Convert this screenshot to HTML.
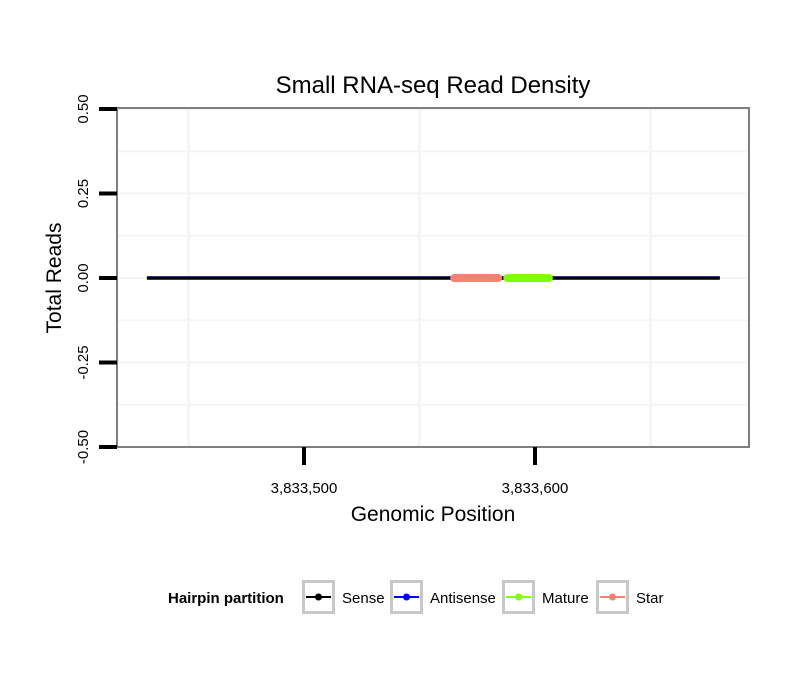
<!DOCTYPE html>
<html><head><meta charset="utf-8"><style>
html,body{margin:0;padding:0;background:#fff;}
svg{display:block;font-family:"Liberation Sans",sans-serif;}
</style></head><body>
<svg id="c" width="810" height="690" xmlns="http://www.w3.org/2000/svg"></svg>
<script>
const xTickVals=[3833500,3833600];
const xTickLabels=["3,833,500","3,833,600"];
const xMinorVals=[3833450,3833550,3833650];
const yTickVals=[0.5,0.25,0,-0.25,-0.5];
const yTickLabels=["0.50","0.25","0.00","-0.25","-0.50"];
const seriesNames=["Sense","Antisense","Mature","Star"];
const seriesColors=["#000000","#0000ff","#7fff00","#fa8072"];
const senseX=[3833432,3833680];const senseY=[0,0];
const antisenseX=[3833432,3833680];const antisenseY=[0,0];
const starX=[3833565,3833584];const starY=[0,0];
const matureX=[3833588,3833606];const matureY=[0,0];
const L=117,R=749,T=108,B=447;
const xs=v=>304+(v-3833500)*2.31;
const ys=v=>278-v*338;
const s=document.getElementById('c');const NS="http://www.w3.org/2000/svg";
function mk(t,a,p){const e=document.createElementNS(NS,t);for(const k in a)e.setAttribute(k,a[k]);(p||s).appendChild(e);return e;}
let e;
e=mk('rect',{x:L,y:T,width:R-L,height:B-T,fill:'#fff'});


[0.375,0.125,-0.125,-0.375].forEach(v=>{e=mk('line',{x1:L,x2:R,y1:ys(v),y2:ys(v),stroke:'#f5f5f5','stroke-width':2});

});
yTickVals.forEach(v=>{e=mk('line',{x1:L,x2:R,y1:ys(v),y2:ys(v),stroke:'#f5f5f5','stroke-width':2});

});
xMinorVals.forEach(v=>{e=mk('line',{x1:xs(v),x2:xs(v),y1:T,y2:B,stroke:'#f5f5f5','stroke-width':3});

});
function seg(xa,ya,col,w,name,cap){e=mk('line',{x1:xs(xa[0]),x2:xs(xa[1]),y1:ys(ya[0]),y2:ys(ya[1]),stroke:col,'stroke-width':w,'stroke-linecap':cap});

}
seg(antisenseX,antisenseY,'#33336e',4,'antisense-line','butt');
seg(senseX,senseY,'#000',2,'sense-line','butt');
seg(starX,starY,seriesColors[3],8,'star-segment','round');
seg(matureX,matureY,seriesColors[2],8,'mature-segment','round');
e=mk('rect',{x:L,y:T,width:R-L,height:B-T,fill:'none',stroke:'#7f7f7f','stroke-width':2});


yTickVals.forEach((v,i)=>{e=mk('line',{x1:99,x2:L,y1:ys(v),y2:ys(v),stroke:'#000','stroke-width':4});


e=mk('text',{x:0,y:0,transform:`translate(88,${ys(v)}) rotate(-90)`,'text-anchor':'middle','font-size':15});e.textContent=yTickLabels[i];

});
xTickVals.forEach((v,i)=>{e=mk('line',{x1:xs(v),x2:xs(v),y1:B,y2:465,stroke:'#000','stroke-width':4});


e=mk('text',{x:xs(v),y:493,'text-anchor':'middle','font-size':15});e.textContent=xTickLabels[i];

});
e=mk('text',{x:433,y:93,'text-anchor':'middle','font-size':24});e.textContent='Small RNA-seq Read Density';


e=mk('text',{x:433,y:521,'text-anchor':'middle','font-size':21});e.textContent='Genomic Position';


e=mk('text',{x:0,y:0,transform:'translate(61,278) rotate(-90)','text-anchor':'middle','font-size':21});e.textContent='Total Reads';


e=mk('text',{x:168,y:603,'font-size':15,'font-weight':'bold'});e.textContent='Hairpin partition';


const kx=[302,390,502,596];
seriesNames.forEach((n,i)=>{const g=mk('g',{});


mk('rect',{x:kx[i]+1.5,y:581.5,width:30,height:31,fill:'#fff',stroke:'#c8c8c8','stroke-width':3},g);
mk('line',{x1:kx[i]+4,x2:kx[i]+29,y1:597,y2:597,stroke:seriesColors[i],'stroke-width':2},g);
mk('circle',{cx:kx[i]+16.5,cy:597,r:3.5,fill:seriesColors[i]},g);
const t=mk('text',{x:kx[i]+40,y:603,'font-size':15},g);t.textContent=n;});
</script>
</body></html>
